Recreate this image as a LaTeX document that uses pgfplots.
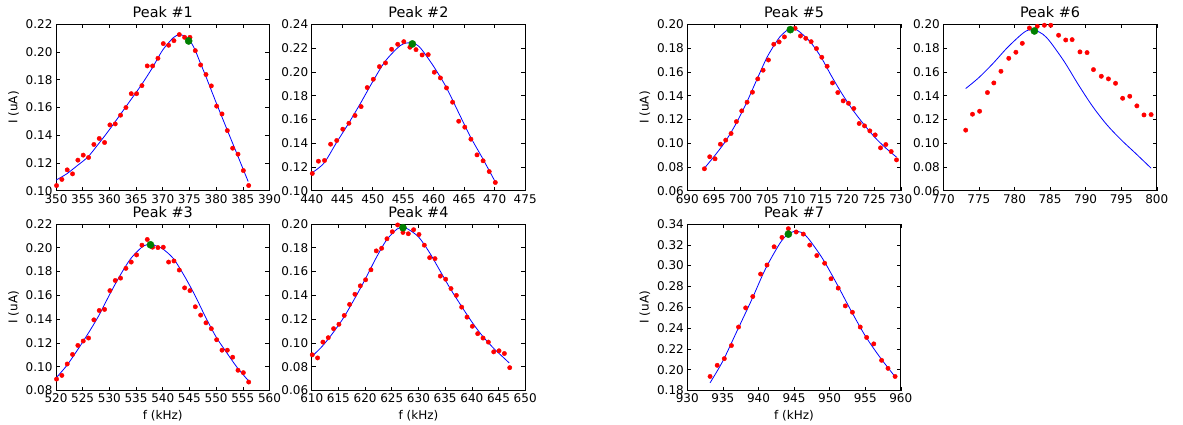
\documentclass[border=0pt]{standalone}
\usepackage{pgfplots}
\pgfplotsset{compat=1.18}
\usepackage{fontspec}
\setmainfont{DejaVu Sans}
\definecolor{mplred}{rgb}{1,0,0}
\definecolor{mplblue}{rgb}{0,0,1}
\definecolor{mplgreen}{rgb}{0,0.5,0}
\pgfplotsset{
  peak/.style={
    width=213.5pt, height=166.5pt, scale only axis,
    anchor=north west,
    axis line style={line width=0.8pt},
    tick style={line width=0.6pt, black},
    major tick length=4pt,
    tick align=inside,
    tick label style={font=\fontsize{12}{14}\selectfont},
    label style={font=\fontsize{12}{14}\selectfont},
    title style={font=\fontsize{14.4}{17}\selectfont, yshift=-3pt},
    /pgf/number format/assume math mode=true,
    xticklabel style={/pgf/number format/1000 sep={}},
    yticklabel style={/pgf/number format/.cd, fixed, fixed zerofill, precision=2},
    scaled y ticks=false,
    clip=true,
  },
  fitline/.style={mplblue, line width=0.8pt, no marks, smooth},
  datapts/.style={only marks, mark=*, mark size=2.2pt, draw=mplred, fill=mplred},
  peakpt/.style={only marks, mark=*, mark size=3.6pt, draw=mplgreen, fill=mplgreen},
}
\begin{document}
\begin{tikzpicture}
\path[use as bounding box] (0pt,0pt) rectangle (1183pt,-425pt);

% Peak #1
\begin{axis}[peak, at={(56pt,-24.3pt)}, title={Peak \#1}, ylabel={I (uA)},
  xmin=350, xmax=390, ymin=0.10, ymax=0.22,
  xtick={350,355,360,365,370,375,380,385,390},
  ytick={0.10,0.12,0.14,0.16,0.18,0.20,0.22}]
\addplot[fitline] coordinates {(350,0.1077)(352,0.1122)(354,0.1182)(356,0.1245)(358,0.1340)(360,0.1440)(362,0.1547)(364,0.1655)(366,0.1763)(368,0.1883)(370,0.2015)(372,0.2104)(373,0.2123)(374,0.2118)(375,0.2087)(376,0.2020)(377,0.1925)(378,0.1832)(380,0.1636)(382,0.1446)(384,0.1257)(386,0.1067)};
\addplot[datapts] coordinates {(350.1,0.1038)(351.1,0.1082)(352.1,0.1151)(353.1,0.1122)(354.1,0.1221)(355.1,0.1257)(356.1,0.1240)(357.1,0.1334)(358.1,0.1377)(359.1,0.1348)(360.1,0.1475)(361.1,0.1482)(362.1,0.1545)(363.1,0.1600)(364.1,0.1700)(365.1,0.1700)(366.1,0.1758)(367.1,0.1900)(368.1,0.1900)(369.1,0.1955)(370.1,0.2061)(371.1,0.2049)(372.1,0.2082)(373.1,0.2126)(374.1,0.2106)(375.1,0.2106)(376.1,0.2010)(377.1,0.1907)(378.1,0.1838)(379.1,0.1756)(380.1,0.1610)(381.1,0.1554)(382.1,0.1434)(383.1,0.1307)(384.1,0.1264)(385.1,0.1146)(386.1,0.1038)};
\addplot[peakpt] coordinates {(374.85,0.2080)};
\end{axis}

% Peak #2
\begin{axis}[peak, at={(311.7pt,-24.3pt)}, title={Peak \#2},
  xmin=440, xmax=475, ymin=0.10, ymax=0.24,
  xtick={440,445,450,455,460,465,470,475},
  ytick={0.10,0.12,0.14,0.16,0.18,0.20,0.22,0.24}]
\addplot[fitline] coordinates {(440,0.1150)(442,0.1232)(444,0.1400)(446,0.1563)(448,0.1736)(450,0.1918)(452,0.2086)(454,0.2198)(455,0.2235)(456,0.2245)(457,0.2235)(458,0.2190)(460,0.2045)(462,0.1876)(464,0.1666)(466,0.1456)(468,0.1274)(470,0.1084)};
\addplot[datapts] coordinates {(440.1,0.1146)(441.1,0.1249)(442.1,0.1255)(443.1,0.1392)(444.1,0.1423)(445.1,0.1518)(446.1,0.1568)(447.1,0.1633)(448.1,0.1708)(449.1,0.1868)(450.1,0.1938)(451.1,0.2044)(452.1,0.2075)(453.1,0.2190)(454.1,0.2232)(455.1,0.2254)(456.1,0.2207)(457.1,0.2187)(458.1,0.2142)(459.1,0.2145)(460.1,0.1997)(461.1,0.1949)(462.1,0.1865)(463.1,0.1745)(464.1,0.1585)(465.1,0.1535)(466.1,0.1434)(467.1,0.1302)(468.1,0.1252)(469.1,0.1162)(470.1,0.1070)};
\addplot[peakpt] coordinates {(456.5,0.2235)};
\end{axis}

% Peak #3
\begin{axis}[peak, at={(56pt,-224pt)}, title={Peak \#3}, ylabel={I (uA)}, xlabel={f (kHz)},
  xmin=520, xmax=560, ymin=0.08, ymax=0.22,
  xtick={520,525,530,535,540,545,550,555,560},
  ytick={0.08,0.10,0.12,0.14,0.16,0.18,0.20,0.22}]
\addplot[fitline] coordinates {(520,0.0905)(522,0.1009)(524,0.1139)(526,0.1278)(528,0.1428)(530,0.1603)(532,0.1767)(534,0.1909)(536,0.2002)(537,0.2025)(538,0.2027)(539,0.2011)(540,0.1991)(542,0.1909)(544,0.1767)(546,0.1603)(548,0.1419)(550,0.1250)(552,0.1117)(554,0.0990)(556,0.0885)};
\addplot[datapts] coordinates {(520.1,0.0896)(521.1,0.0927)(522.1,0.1023)(523.1,0.1103)(524.1,0.1179)(525.1,0.1216)(526.1,0.1241)(527.1,0.1394)(528.1,0.1473)(529.1,0.1482)(530.1,0.1640)(531.1,0.1725)(532.1,0.1745)(533.1,0.1827)(534.1,0.1880)(535.1,0.1940)(536.1,0.2022)(537.1,0.2070)(538.1,0.2005)(539.1,0.2002)(540.1,0.2005)(541.1,0.1880)(542.1,0.1889)(543.1,0.1813)(544.1,0.1663)(545.1,0.1640)(546.1,0.1504)(547.1,0.1434)(548.1,0.1369)(549.1,0.1320)(550.1,0.1227)(551.1,0.1139)(552.1,0.1139)(553.1,0.1080)(554.1,0.0970)(555.1,0.0950)(556.1,0.0871)};
\addplot[peakpt] coordinates {(537.7,0.2025)};
\end{axis}

% Peak #4
\begin{axis}[peak, at={(311.7pt,-224pt)}, title={Peak \#4}, xlabel={f (kHz)},
  xmin=610, xmax=650, ymin=0.06, ymax=0.20,
  xtick={610,615,620,625,630,635,640,645,650},
  ytick={0.06,0.08,0.10,0.12,0.14,0.16,0.18,0.20}]
\addplot[fitline] coordinates {(610,0.0885)(612,0.0973)(614,0.1086)(616,0.1214)(618,0.1369)(620,0.1533)(622,0.1709)(624,0.1864)(626,0.1958)(627,0.1970)(628,0.1958)(630,0.1892)(632,0.1765)(634,0.1610)(636,0.1454)(638,0.1313)(640,0.1177)(642,0.1058)(644,0.0959)(646,0.0874)(647,0.0832)};
\addplot[datapts] coordinates {(610.1,0.0900)(611.1,0.0874)(612.1,0.1007)(613.1,0.1044)(614.1,0.1120)(615.1,0.1157)(616.1,0.1231)(617.1,0.1324)(618.1,0.1409)(619.1,0.1480)(620.1,0.1531)(621.1,0.1615)(622.1,0.1774)(623.1,0.1796)(624.1,0.1876)(625.1,0.1935)(626.1,0.1992)(627.1,0.1929)(628.1,0.1918)(629.1,0.1952)(630.1,0.1912)(631.1,0.1822)(632.1,0.1717)(633.1,0.1709)(634.1,0.1562)(635.1,0.1536)(636.1,0.1457)(637.1,0.1400)(638.1,0.1301)(639.1,0.1217)(640.1,0.1140)(641.1,0.1078)(642.1,0.1041)(643.1,0.1007)(644.1,0.0925)(645.1,0.0934)(646.1,0.0911)(647.1,0.0792)};
\addplot[peakpt] coordinates {(627.1,0.1969)};
\end{axis}

% Peak #5
\begin{axis}[peak, at={(687.3pt,-24.3pt)}, title={Peak \#5}, ylabel={I (uA)},
  xmin=690, xmax=730, ymin=0.06, ymax=0.20,
  xtick={690,695,700,705,710,715,720,725,730},
  ytick={0.06,0.08,0.10,0.12,0.14,0.16,0.18,0.20}]
\addplot[fitline] coordinates {(693.2,0.0790)(695,0.0888)(697,0.1006)(699,0.1154)(701,0.1331)(703,0.1532)(705,0.1728)(707,0.1874)(708,0.1924)(709,0.1958)(710,0.1963)(711,0.1938)(713,0.1854)(715,0.1728)(717,0.1566)(719,0.1415)(721,0.1280)(723,0.1163)(725,0.1056)(727,0.0967)(729.2,0.0883)};
\addplot[datapts] coordinates {(693.2,0.0785)(694.2,0.0886)(695.2,0.0869)(696.2,0.0992)(697.2,0.1026)(698.2,0.1082)(699.2,0.1182)(700.2,0.1272)(701.2,0.1345)(702.2,0.1429)(703.2,0.1541)(704.2,0.1614)(705.2,0.1700)(706.2,0.1832)(707.2,0.1852)(708.2,0.1894)(709.2,0.1955)(710.2,0.1966)(711.2,0.1902)(712.2,0.1882)(713.2,0.1854)(714.2,0.1796)(715.2,0.1723)(716.2,0.1647)(717.2,0.1507)(718.2,0.1426)(719.2,0.1356)(720.2,0.1336)(721.2,0.1292)(722.2,0.1166)(723.2,0.1146)(724.2,0.1104)(725.2,0.1070)(726.2,0.0961)(727.2,0.0989)(728.2,0.0930)(729.2,0.0860)};
\addplot[peakpt] coordinates {(709.3,0.1955)};
\end{axis}

% Peak #6
\begin{axis}[peak, at={(943.3pt,-24.3pt)}, title={Peak \#6},
  xmin=770, xmax=800, ymin=0.06, ymax=0.20,
  xtick={770,775,780,785,790,795,800},
  ytick={0.06,0.08,0.10,0.12,0.14,0.16,0.18,0.20}]
\addplot[fitline] coordinates {(773.15,0.1460)(775,0.1552)(777,0.1672)(779,0.1804)(781,0.1916)(782,0.1953)(783,0.1947)(784,0.1916)(785,0.1854)(787,0.1686)(789,0.1490)(791,0.1308)(793,0.1154)(795,0.1028)(797,0.0916)(799.2,0.0790)};
\addplot[datapts] coordinates {(773.15,0.1110)(774.1,0.1244)(775.1,0.1269)(776.2,0.1426)(777.1,0.1507)(778.1,0.1605)(779.2,0.1714)(780.2,0.1765)(781.1,0.1840)(782.1,0.1969)(783.2,0.1983)(784.2,0.1992)(785.1,0.1992)(786.2,0.1908)(787.2,0.1868)(788.1,0.1871)(789.2,0.1768)(790.2,0.1762)(791.1,0.1619)(792.2,0.1563)(793.2,0.1541)(794.2,0.1504)(795.2,0.1378)(796.2,0.1395)(797.2,0.1314)(798.2,0.1238)(799.2,0.1241)};
\addplot[peakpt] coordinates {(782.8,0.1944)};
\end{axis}

% Peak #7
\begin{axis}[peak, at={(687.3pt,-224pt)}, title={Peak \#7}, ylabel={I (uA)}, xlabel={f (kHz)},
  xmin=930, xmax=960, ymin=0.18, ymax=0.34,
  xtick={930,935,940,945,950,955,960},
  ytick={0.18,0.20,0.22,0.24,0.26,0.28,0.30,0.32,0.34}]
\addplot[fitline] coordinates {(933.2,0.1874)(935,0.2084)(937,0.2374)(939,0.2665)(941,0.2971)(943,0.3213)(944,0.3294)(945,0.3329)(946,0.3320)(947,0.3261)(949,0.3068)(951,0.2826)(953,0.2568)(955,0.2326)(957,0.2126)(959.2,0.1932)};
\addplot[datapts] coordinates {(933.2,0.1935)(934.2,0.2042)(935.2,0.2106)(936.2,0.2232)(937.2,0.2410)(938.2,0.2594)(939.2,0.2703)(940.3,0.2919)(941.2,0.3006)(942.2,0.3181)(943.3,0.3271)(944.2,0.3355)(945.3,0.3323)(946.3,0.3303)(947.2,0.3197)(948.2,0.3097)(949.3,0.3023)(950.2,0.2874)(951.2,0.2784)(952.2,0.2613)(953.2,0.2552)(954.3,0.2410)(955.2,0.2310)(956.2,0.2248)(957.3,0.2090)(958.2,0.2013)(959.2,0.1935)};
\addplot[peakpt] coordinates {(944.2,0.3303)};
\end{axis}
\end{tikzpicture}
\end{document}
